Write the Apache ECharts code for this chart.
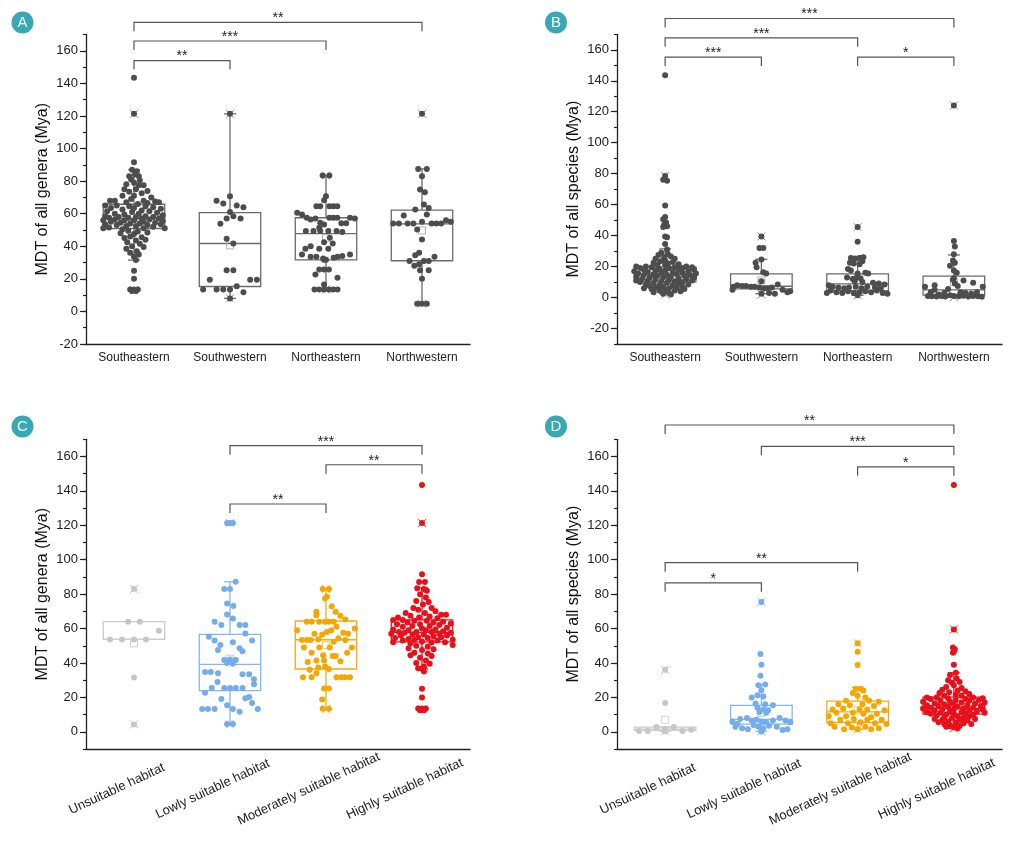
<!DOCTYPE html>
<html lang="en">
<head>
<meta charset="UTF-8">
<title>MDT box plots</title>
<style>
html, body { margin: 0; padding: 0; background: #fff; }
#chart { width: 1014px; height: 845px; }
</style>
</head>
<body>
<div id="chart"></div>
<script src="https://cdn.jsdelivr.net/npm/echarts@6/dist/echarts.min.js"></script>
<script>
var FONT = '"Liberation Sans", Arial, sans-serif';

var regions = ['Southeastern', 'Southwestern', 'Northeastern', 'Northwestern'];
var habitats = ['Unsuitable habitat', 'Lowly suitable habitat', 'Moderately suitable habitat', 'Highly suitable habitat'];
var majorTicks = [-20, 0, 20, 40, 60, 80, 100, 120, 140, 160];

// box stats: [lower whisker, Q1, median, Q3, upper whisker]
var A_box = [[31.5, 50.9, 57, 65.8, 86.9], [8, 15.3, 41.7, 60.7, 121.3], [13.5, 31.7, 47.7, 57.5, 83.4], [4.7, 31.1, 53.8, 62.2, 87.5]];
var A_mean = [57.5, 40.5, 45, 49.7];
var A_ext = [[13, 121.3], [8, 121.3], [13.5, 83.4], [4.7, 121.3]];
var B_box = [[2.5, 10.1, 14.8, 19.8, 31.4], [2.5, 5.6, 7.3, 15.3, 24.7], [1.5, 4.5, 8.8, 15.3, 26.6], [0.3, 1.5, 5, 13.8, 27.5]];
var B_mean = [16.5, 11, 10.5, 10];
var B_ext = [[2, 78.5], [2, 39.5], [1.5, 45.5], [0.3, 124]];
var C_box = [[53.7, 53.7, 53.7, 64, 64], [4.3, 23.9, 39.2, 56.6, 87.2], [13.2, 36.5, 53.5, 64.4, 83], [36.6, 52.3, 57.8, 65, 83.7]];
var C_mean = [51.4, 42.5, 50.4, 57.5];
var C_ext = [[4.3, 83], [4.3, 121.3], [13.2, 83], [13, 121.3]];
var D_box = [[0.3, 0.8, 1.5, 2.7, 2.8], [0.2, 4.5, 7.2, 15.3, 27.5], [1.5, 5.4, 11.6, 17.8, 25.8], [2, 10.3, 13.6, 20.2, 34.3]];
var D_mean = [7, 11, 12.5, 16.5];
var D_ext = [[0.3, 36], [0.2, 75.5], [1.5, 51.5], [2, 59.5]];

// points: [jitter offset within category, MDT]
var A_SE = [[0,143.5],[0,121.3],[0,91.5],[-0.02,87],[0.03,86],[0.01,84],[-0.05,83],[0.05,83],[-0.03,81],[0.06,80.5],[0,79],[-0.08,78],[0.05,77.5],[0.1,77.5],
  [-0.1,75],[0.02,75],[0.14,74],[-0.05,73.5],[0.08,72.5],[-0.12,71],[0,71],[0.18,70],[-0.03,69],[-0.2,68],[-0.25,68],[0.1,68],[0.22,67.5],[0.26,67],[-0.08,67],[0.14,66.5],[0.04,66],
  [-0.3,65],[-0.18,65],[-0.05,64.5],[0.12,64.5],[0.2,64],[-0.24,63.5],[0,63.5],[0.28,63],[-0.12,62.5],[0.08,62],[-0.28,61.5],[0.16,61.5],[-0.02,61],[0.24,60.5],[-0.2,60],[0.05,60],
  [-0.1,59.5],[0.3,59],[-0.3,58.5],[0.12,58.5],[-0.16,58],[0.02,58],[0.2,58],[-0.26,57.5],[-0.06,57.5],[0.08,57],[0.26,57],[-0.2,56.5],[0.16,56.5],[-0.32,56],[-0.1,56],[0,56],[0.3,55.5],
  [-0.24,55],[0.1,55],[-0.14,54.5],[0.22,54.5],[-0.04,54],[0.06,54],[-0.3,53.5],[0.28,53.5],[-0.18,53],[0.14,53],[-0.08,52.5],[0.02,52.5],[0.2,52],[-0.26,51.5],[0.32,51],[-0.32,51],[0.1,51],[-0.12,50.5],
  [-0.06,49.5],[0.04,49],[0.14,48.5],[-0.14,48],[0,47.5],[-0.04,46],[0.08,45.5],[-0.1,45],[0.12,44],[0.02,43.5],[-0.07,42.5],[0.06,41.5],[-0.02,40],[0.1,39.5],[-0.08,38.5],[0.03,37],
  [-0.04,36],[0.05,35],[0,33.5],[0.02,31.5],[0,25],[0,20],[-0.04,13.5],[0,13.5],[0.04,13.5],[-0.02,12.5],[0.02,12.5]];
var A_SW = [[0,121.3],[0,70.7],[-0.14,68],[-0.07,66.3],[0.07,65],[0.14,64],[0,61],[-0.035,57],[0.035,58.5],[0.11,57],[-0.1,53.8],[-0.035,44.6],[0.035,41.7],
  [-0.035,25.3],[0.035,25.3],[-0.21,19.4],[0.21,19.4],[0.28,19.4],[0.07,15.5],[-0.28,13.5],[-0.14,13.5],[-0.07,13.5],[0,13.5],[0.14,11.8],[0,8]];
var A_NE = [[-0.035,83.4],[0.035,83.4],[0,70.7],[-0.02,68.3],[-0.1,64.6],[-0.06,64.6],[0.035,64.6],[0.076,64.6],[0.118,64.6],[-0.3,60.5],[-0.25,59.5],[-0.2,57.5],[-0.16,56.5],[-0.11,57],
  [0.035,57.5],[0.076,57.5],[0.118,57.5],[0.25,57.5],[0.3,57],[-0.06,54.4],[-0.02,53.4],[0.16,54.2],[0.21,54.2],[-0.07,51.3],[-0.21,49.3],[-0.13,49.3],[-0.06,49.3],[0.024,49.3],[0.11,49.3],[0.17,48.8],
  [0.04,45.2],[-0.02,42.5],[-0.215,38.4],[-0.16,40],[-0.07,38.4],[0.024,38.4],[0.07,41.7],[-0.25,35],[-0.16,33.5],[-0.1,33.5],[-0.03,32.5],[0.08,33],[0.12,33.5],[0.17,34],[0.25,35],
  [-0.02,31.7],[0,31.7],[-0.07,25.8],[-0.02,25.8],[0.03,25.8],[-0.11,22.7],[0.12,20.7],[-0.02,16.6],[-0.12,13.5],[-0.07,13.5],[-0.02,13.5],[0.03,13.5],[0.076,13.5],[0.12,13.5]];
var A_NW = [[0,121.3],[-0.04,87.5],[0.05,87.5],[0,83],[-0.02,74.8],[0.03,73.2],[0.02,65.6],[-0.07,62.5],[0.07,63.5],[-0.19,58.9],[0.05,59.5],[-0.3,54],[-0.24,54],[-0.15,54],[-0.09,54],
  [0,55],[0.1,54],[0.15,54],[0.2,54],[0.25,56],[0.3,55],[-0.05,50.3],[0,44.2],[-0.03,36],[-0.07,34.5],[-0.13,31],[-0.08,28],[-0.03,29],[0.02,31],[0.07,31],[0.13,33.5],
  [-0.02,25.3],[0.07,25.3],[0,20],[-0.05,4.7],[0,4.7],[0.05,4.7]];

var B_SE = [[0,143.5],[0,78.5],[-0.02,76],[0.02,75.5],[0,59.5],[0,52],[-0.02,50.5],[0.01,48.5],[-0.01,47],[0.02,46],[-0.02,45.5],[0,39.5],[0.02,39],[0,34.5],[0.02,31],
  [-0.04,29],[0.03,28],[-0.07,27.5],[0.06,26.5],[-0.01,26],[-0.1,25],[0.1,25],[0,24],[-0.05,23.5],[0.08,23],[-0.12,22.5],[0.03,22],[0.14,21.5],[-0.08,21],[0,21],
  [-0.3,20],[-0.2,20],[0.22,20],[0.28,19.5],[-0.14,19.5],[0.1,19.5],[-0.26,19],[0.04,19],[0.18,19],[-0.06,18.5],[-0.22,18],[0.3,18],[0.14,18],[-0.1,17.5],[0,17.5],[-0.32,17],[0.24,17],
  [-0.18,16.5],[0.08,16.5],[-0.04,16],[0.18,16],[-0.28,15.5],[0.32,15.5],[-0.12,15],[0.12,15],[-0.22,14.5],[0.02,14.5],[0.26,14.5],[-0.08,14],[0.2,14],[-0.3,13.5],[0.06,13.5],[-0.16,13],
  [0.3,13],[-0.02,13],[0.14,12.5],[-0.24,12],[0.22,12],[-0.1,12],[0.04,11.5],[-0.3,11],[0.28,11],[-0.18,11],[0.1,10.5],[-0.04,10.5],[0.18,10],[-0.26,10],
  [-0.12,9.5],[0.02,9.5],[0.14,9],[-0.2,8.5],[0.24,8.5],[-0.06,8],[0.08,8],[-0.16,7.5],[0.18,7],[-0.02,7],[-0.1,6.5],[0.12,6.5],[-0.22,6],[0.04,6],[0.2,5.5],[-0.14,5.5],[0,5],
  [0.1,4.5],[-0.06,4.5],[0.16,4],[-0.12,3.5],[0.04,3],[-0.02,2.5],[0.06,2]];
var B_SW = [[0,39.5],[-0.02,32],[0.02,32],[0,24.5],[-0.06,22.4],[-0.05,19.5],[0.02,16.3],[0.05,15.5],[0,10.5],[-0.29,7],[-0.25,8],[-0.2,7.5],[-0.16,7.5],[-0.11,7],[-0.07,7],
  [-0.02,6.5],[0.03,6],[0.07,6],[0.11,6.5],[0.17,8.5],[0.22,5],[0.27,3.5],[0.3,4],[-0.3,5],[0.14,2.5],[0.08,3],[0,2.5]];
var B_NE = [[0,45.5],[0,36],[-0.07,25.5],[-0.03,25],[0.02,25.5],[0.06,26],[-0.08,22.5],[-0.04,22],[0.02,21.5],[0.05,23.5],[-0.1,18.5],[-0.07,17.5],[0,15.5],[0.08,16],[0.11,15.5],
  [-0.11,13],[-0.05,12],[-0.01,13],[0.03,12.5],[-0.03,10.5],[0.05,10],[0.16,9.5],[0.22,9],[-0.3,8],[-0.26,7],[0.28,8.5],[-0.2,6.5],[-0.14,6],[-0.09,6.5],[-0.02,7],[0.04,6],[0.1,7],
  [0.18,6.5],[0.24,6],[-0.28,4.5],[-0.22,3.5],[-0.16,3],[-0.1,4],[-0.04,3],[0.02,3.5],[0.08,4],[0.14,3.5],[0.2,4.5],[0.26,3],[0.31,2.5],[-0.32,3],[0,1.5]];
var B_NW = [[0,124],[0,36.5],[0.01,33],[0,28],[-0.01,24],[0.01,22.5],[-0.04,20.5],[0,17.5],[0.03,16],[0,12.5],[0.1,11],[-0.01,11.5],[0.01,9],[0.2,9.5],[-0.2,8],[0.04,7.5],[-0.3,7],
  [-0.2,5],[-0.06,5.5],[0.3,7],[-0.16,2],[0.12,3],[-0.27,1],[-0.23,0.8],[-0.18,0.6],[-0.13,1],[-0.09,0.7],[-0.04,1.5],[0,1],[0.05,0.8],[0.1,1.2],[0.15,0.6],[0.2,1],[0.25,0.8],
  [0.29,0.5],[-0.1,3],[0.07,3.5],[0.18,2.5],[-0.24,3.5],[0.24,3.5]];

var C_UN = [[0,83],[-0.06,64],[0.06,64],[0.26,58.7],[-0.25,53.7],[-0.125,53.7],[0,53.7],[0.125,53.7],[0,31.6],[0,4.3]];
var C_LO = [[-0.03,121.3],[0,121.3],[0.03,121.3],[0.06,87.2],[-0.06,83],[0,83],[-0.03,74.6],[0.035,73.1],[-0.03,68.2],[0.03,65.9],[-0.16,64],[-0.09,62],[0.1,62],[0.16,62],
  [-0.22,55.3],[0.16,57.2],[-0.16,53],[-0.1,50.5],[0.03,52],[0.23,53],[-0.125,47.5],[0.1,48.5],[0.13,46.8],[-0.06,41.7],[0,42],[0.06,41.7],[-0.03,40],[0.03,39.5],
  [-0.26,34.7],[-0.2,34.7],[-0.125,34],[0.13,33.5],[0.2,33.5],[0.25,30.5],[-0.13,29],[0.25,27.6],[-0.19,25.4],[-0.06,25.4],[0,25.4],[0.06,25.4],[0.13,25.4],[-0.26,22.7],
  [-0.09,19],[0.16,19.5],[0.2,20.2],[-0.03,15.5],[0.23,16.7],[-0.29,13.2],[-0.23,13.2],[-0.16,13.2],[0.03,13.2],[0.1,11.6],[0.29,13.2],[-0.03,4.5],[0.03,4.5]];
var C_MO = [[-0.035,83],[0.03,83],[-0.01,77.5],[0.01,78.5],[-0.1,69.8],[-0.1,67.8],[0.06,73],[0.1,69.8],[0.15,67.4],[0.2,65.3],[-0.2,64],[-0.15,64],[-0.07,64],[-0.01,64],[0.03,64],[0.08,64],
  [-0.3,59],[-0.12,57],[-0.04,56.5],[0.01,58],[0.055,59],[0.11,61],[0.18,57.5],[0.23,57],[0.3,60],[-0.25,53.3],[-0.2,53.3],[-0.16,53.3],[-0.08,53.8],[0.08,52.3],[0.13,54.3],[0.2,53.3],
  [-0.23,49],[-0.15,46],[-0.07,49],[-0.03,44.5],[0.04,49],[0.1,44],[0.07,44],[0.22,46],[0.27,49],[-0.19,40.5],[-0.1,41.5],[-0.02,41.5],[0.15,41],[-0.17,36],[-0.08,37.3],[-0.01,38],[0.03,36.5],
  [-0.24,31.7],[-0.15,31.7],[-0.1,34],[0.11,31.7],[0.16,31.7],[0.2,31.7],[0.25,31.7],[-0.02,25.2],[0.03,25.2],[-0.04,18.8],[-0.035,13.4],[0.03,13.4]];
var C_HI = [[0,143.5],[0,121.3],[0,91.5],[-0.03,87],[0.03,87],[-0.05,83.5],[0.02,83],[0.05,82],[-0.02,80],[0.04,78],[-0.06,76],[0.07,75.5],[0.01,74],[-0.09,72],[0.1,72],[-0.04,71],
  [0.14,70],[-0.17,69],[0.03,69],[0.2,68],[0.25,68],[-0.12,67.5],[0.08,67],[-0.25,66.5],[-0.03,66.5],[0.16,66],
  [-0.3,65],[-0.2,65],[-0.08,64.5],[0.05,64.5],[0.22,64],[-0.15,63.5],[0.12,63.5],[0.3,63],[-0.26,62.5],[-0.02,62.5],[0.18,62],[-0.1,61.5],[0.08,61.5],[-0.2,61],[0.26,60.5],[0,60],
  [-0.3,59.5],[0.14,59.5],[-0.14,59],[0.04,59],[0.22,58.5],[-0.24,58],[-0.06,58],[0.1,58],[0.3,57.5],[-0.18,57.5],[0.18,57],[-0.32,57],[-0.1,56.5],[0.02,56.5],[0.26,56],[-0.22,56],
  [0.12,55.5],[-0.04,55],[0.2,55],[-0.28,54.5],[0.06,54.5],[-0.14,54],[0.32,53.5],[-0.08,53.5],[0.16,53],[-0.2,53],[0,52.5],[0.24,52],[-0.3,52],[0.1,52],[-0.12,51.5],[0.32,50.5],
  [-0.06,50],[0.06,49.5],[-0.14,48.5],[0.12,48],[0,47.5],[-0.08,46],[0.06,45.5],[-0.12,44.5],[0.1,44],[-0.02,43],[0.04,41.5],[-0.06,40],[0.08,39.5],[0.02,38],[-0.04,37],[0,36.6],[0.02,35],
  [0,25],[0,20],[-0.04,13.5],[0,13.5],[0.04,13.5],[-0.02,12.5],[0.02,12.5]];

var D_UN = [[0,36],[0,16.7],[-0.27,0.5],[-0.18,0.5],[-0.09,2.8],[0,1.5],[0.09,2.8],[0.18,0.5],[0.27,1.2],[0,0.3]];
var D_LO = [[0,75.5],[-0.01,45.2],[0,39],[-0.01,32.6],[0.04,27.5],[-0.03,27],[0,24.2],[-0.04,21.3],[0.02,20.5],[-0.1,20],[-0.06,16.5],[0.04,16],[0.12,15.5],[-0.04,14],[0.02,13],
  [0.07,12.5],[-0.02,11.5],[0.05,11],[-0.22,7.5],[-0.15,8],[-0.1,6.5],[-0.05,7],[0,6],[0.05,5.5],[0.12,6.5],[0.19,8],[0.25,6.5],[0.3,5.5],[-0.3,6],[-0.27,3],[-0.2,2],[-0.14,1.5],
  [-0.08,4],[-0.03,3],[0.02,2],[0.08,3.5],[0.16,3],[0.22,1],[0.27,1.5],[-0.25,4.5],[0,0.2]];
var D_MO = [[0,51.5],[0,46.5],[0,38.8],[-0.02,25],[0.03,25],[0.06,24],[-0.05,22.5],[0,21],[0.08,20],[-0.12,18],[0.12,18],[0.22,17.5],[-0.2,16],[-0.08,15.5],[0.05,16],[0.17,15],
  [-0.26,13],[-0.15,13.5],[0.02,13],[0.1,13],[0.28,12.5],[-0.22,11],[-0.05,11],[0.06,10.5],[0.2,10.5],[-0.3,9],[-0.12,9],[0.14,8.5],[-0.18,7],[-0.04,7.5],[0.1,7],[0.25,7],
  [-0.28,5],[-0.1,5],[0.03,5.5],[0.18,5],[0.3,4.5],[-0.24,3],[-0.06,2.5],[0.08,3],[0.22,2],[-0.14,1.5],[0.14,1.5],[0,1.5]];
var D_HI = [[0,143.5],[0,59.5],[-0.01,49],[0.01,48],[0,46.5],[-0.01,46],[0,39],[0.02,34.3],[-0.04,33],[0.03,31],[-0.06,30],[0.06,29],[-0.02,28.5],[0,27],[-0.08,26],[0.08,25.5],
  [-0.12,24.5],[0.04,24],[0.12,23.5],[-0.05,23],[-0.15,22.5],[0.16,22],[0.02,21.5],[-0.1,21],[0.08,21],
  [-0.28,20],[-0.18,20],[0.2,20],[0.3,19.5],[-0.06,19.5],[0.12,19],[-0.24,19],[0.02,18.5],[0.26,18.5],[-0.14,18],[0.16,18],[-0.32,17.5],[-0.04,17.5],[0.08,17],[0.32,17],[-0.2,16.5],
  [0.22,16.5],[-0.1,16],[0,16],[-0.28,15.5],[0.14,15.5],[0.28,15],[-0.16,15],[0.04,14.5],[-0.06,14.5],[0.2,14],[-0.24,14],[0.1,13.5],[-0.32,13.5],[-0.12,13],[0.3,13],[0,13],
  [-0.2,12.5],[0.16,12.5],[-0.04,12],[0.24,12],[-0.28,11.5],[0.08,11.5],[0.32,11],[-0.14,11],[-0.24,10.5],[0.12,10.5],[0,10.5],[0.2,10],[-0.08,10],
  [-0.18,9.5],[0.04,9],[0.16,9],[-0.1,8.5],[-0.02,8],[0.1,8],[-0.2,7.5],[0.22,7.5],[-0.12,7],[0.06,7],[0.14,6.5],[-0.06,6],[-0.16,5.5],[0.02,5.5],[0.1,5],[-0.1,4.5],[0.18,4.5],
  [-0.04,4],[0.06,3.5],[-0.08,3],[0,2.5],[0.04,2]];

// significance brackets: [from, to, bracket level (Mya), stars]
var A_sig = [[0, 1, 154, '**'], [0, 2, 166, '***'], [0, 3, 177.5, '**']];
var B_sig = [[0, 1, 155.3, '***'], [0, 2, 167.7, '***'], [2, 3, 155.3, '*'], [0, 3, 180.2, '***']];
var C_sig = [[1, 2, 132.4, '**'], [2, 3, 155.2, '**'], [1, 3, 166.3, '***']];
var D_sig = [[0, 1, 86.6, '*'], [0, 2, 98.3, '**'], [2, 3, 154, '*'], [1, 3, 165.9, '***'], [0, 3, 178.3, '**']];

var grayPal = {
    box: ['#6b6b6b', '#6b6b6b', '#6b6b6b', '#6b6b6b'],
    dot: ['#4d4d4d', '#4d4d4d', '#4d4d4d', '#4d4d4d'],
    mean: ['#b3b3b3', '#b3b3b3', '#b3b3b3', '#b3b3b3'],
    ext: ['#8c8c8c', '#8c8c8c', '#8c8c8c', '#8c8c8c']
};
var habPal = {
    box: ['#cbcbcb', '#84b6ee', '#f5a915', '#e8131b'],
    dot: ['#c6c6c6', '#74acec', '#f4a700', '#e8101a'],
    mean: ['#d0d0d0', '#a9cbf4', '#f8c661', '#ef6a6f'],
    ext: ['#bdbdbd', '#8dbbf0', '#f2b233', '#da3037']
};

var panels = [
    {rect: {left: 86, top: 34.5, width: 384, height: 309.5}, cats: regions, min: -20, max: 170, name: 'MDT of all genera (Mya)',
        box: A_box, mean: A_mean, ext: A_ext, dots: [A_SE, A_SW, A_NE, A_NW], sig: A_sig, pal: grayPal, rotate: false, badge: ['A', 22.5, 22.5]},
    {rect: {left: 617, top: 34.3, width: 385, height: 309.7}, cats: regions, min: -30, max: 170, name: 'MDT of all species (Mya)',
        box: B_box, mean: B_mean, ext: B_ext, dots: [B_SE, B_SW, B_NE, B_NW], sig: B_sig, pal: grayPal, rotate: false, badge: ['B', 556, 22.5]},
    {rect: {left: 86, top: 439.3, width: 384, height: 309.7}, cats: habitats, min: -10, max: 170, name: 'MDT of all genera (Mya)',
        box: C_box, mean: C_mean, ext: C_ext, dots: [C_UN, C_LO, C_MO, C_HI], sig: C_sig, pal: habPal, rotate: true, badge: ['C', 22.5, 426.5]},
    {rect: {left: 617, top: 439.3, width: 385, height: 309.7}, cats: habitats, min: -10, max: 170, name: 'MDT of all species (Mya)',
        box: D_box, mean: D_mean, ext: D_ext, dots: [D_UN, D_LO, D_MO, D_HI], sig: D_sig, pal: habPal, rotate: true, badge: ['D', 556, 426.5]}
];

function boxRenderer(pal) {
    return function (params, api) {
        var i = api.value(0);
        var cx = api.coord([i, 0])[0];
        var hw = api.size([1, 0])[0] * 0.32;
        var Y = function (v) { return api.coord([i, v])[1]; };
        var wl = api.value(1), q1 = api.value(2), md = api.value(3), q3 = api.value(4), wh = api.value(5);
        var mn = api.value(6), el = api.value(7), eh = api.value(8);
        var c = pal.box[i];
        var kids = [];
        function ln(x1, y1, x2, y2, col, w) {
            kids.push({type: 'line', shape: {x1: x1, y1: y1, x2: x2, y2: y2}, style: {stroke: col, lineWidth: w || 1.3}});
        }
        ln(cx, Y(q3), cx, Y(wh), c);
        ln(cx, Y(q1), cx, Y(wl), c);
        if (wh > q3) ln(cx - 6, Y(wh), cx + 6, Y(wh), c);
        if (wl < q1) ln(cx - 6, Y(wl), cx + 6, Y(wl), c);
        kids.push({type: 'rect', shape: {x: cx - hw, y: Y(q3), width: 2 * hw, height: Y(q1) - Y(q3)},
            style: {fill: 'none', stroke: c, lineWidth: 1.3}});
        ln(cx - hw, Y(md), cx + hw, Y(md), c);
        kids.push({type: 'rect', shape: {x: cx - 3.5, y: Y(mn) - 3.5, width: 7, height: 7},
            style: {fill: 'none', stroke: pal.mean[i], lineWidth: 1}});
        [el, eh].forEach(function (v) {
            var y = Y(v);
            ln(cx - 4, y - 4, cx + 4, y + 4, pal.ext[i], 1);
            ln(cx - 4, y + 4, cx + 4, y - 4, pal.ext[i], 1);
        });
        return {type: 'group', children: kids};
    };
}

function sigRenderer(sig) {
    return function (params, api) {
        var s = sig[params.dataIndex];
        var x1 = api.coord([api.value(0), 0])[0];
        var x2 = api.coord([api.value(1), 0])[0];
        var y = api.coord([api.value(0), api.value(2)])[1];
        return {type: 'group', children: [
            {type: 'polyline', shape: {points: [[x1, y + 9], [x1, y], [x2, y], [x2, y + 9]]},
                style: {fill: 'none', stroke: '#555', lineWidth: 1.2}},
            {type: 'text', x: (x1 + x2) / 2, y: y - 4,
                style: {text: s[3], align: 'center', verticalAlign: 'middle', fontSize: 14, fill: '#222', fontFamily: FONT}}
        ]};
    };
}

var option = {animation: false, grid: [], xAxis: [], yAxis: [], series: [], graphic: []};

panels.forEach(function (p, k) {
    option.grid.push(p.rect);
    option.xAxis.push({
        type: 'category', gridIndex: k, position: 'bottom', data: p.cats, boundaryGap: true,
        axisLine: {onZero: false, lineStyle: {color: '#222', width: 1.3}},
        axisTick: {alignWithLabel: true, length: 6, lineStyle: {color: '#222', width: 1.3}},
        axisLabel: p.rotate
            ? {interval: 0, rotate: 25, fontSize: 13, color: '#222', fontFamily: FONT, align: 'center', verticalAlign: 'middle', margin: 32, padding: [0, 38, 0, 0]}
            : {interval: 0, fontSize: 12, color: '#222', fontFamily: FONT, margin: 8},
        splitLine: {show: false}
    });
    option.xAxis.push({type: 'value', gridIndex: k, position: 'bottom', min: -0.5, max: 3.5, show: false,
        axisLine: {onZero: false}});
    option.yAxis.push({
        type: 'value', gridIndex: k, position: 'left', min: p.min, max: p.max, interval: 10,
        name: p.name, nameLocation: 'middle', nameGap: 35,
        nameTextStyle: {fontSize: 16, color: '#111', fontFamily: FONT},
        axisLine: {show: true, onZero: false, lineStyle: {color: '#222', width: 1.3}},
        axisTick: {show: true, length: 3, lineStyle: {color: '#222', width: 1.2}},
        axisLabel: {fontSize: 13, color: '#222', fontFamily: FONT, margin: 8,
            formatter: function (v) { return Math.round(v) % 20 === 0 ? String(Math.round(v)) : ''; }},
        splitLine: {show: false}
    });
    option.yAxis.push({
        type: 'value', gridIndex: k, position: 'left', min: p.min, max: p.max, interval: 10,
        axisLine: {show: false, onZero: false},
        axisTick: {show: true, length: 6, customValues: majorTicks, lineStyle: {color: '#222', width: 1.2}},
        axisLabel: {show: false},
        splitLine: {show: false}
    });
    option.series.push({
        type: 'custom', xAxisIndex: 2 * k, yAxisIndex: 2 * k, clip: false, z: 2, silent: true,
        data: p.box.map(function (b, i) { return [i].concat(b, [p.mean[i]], p.ext[i]); }),
        encode: {x: 0, y: [1, 2, 3, 4, 5]},
        renderItem: boxRenderer(p.pal)
    });
    p.dots.forEach(function (d, i) {
        option.series.push({
            type: 'scatter', xAxisIndex: 2 * k + 1, yAxisIndex: 2 * k, z: 3, silent: true,
            symbolSize: 6, itemStyle: {color: p.pal.dot[i], opacity: 1},
            data: d.map(function (q) { return [i + q[0], q[1]]; })
        });
    });
    option.series.push({
        type: 'custom', xAxisIndex: 2 * k, yAxisIndex: 2 * k, clip: false, z: 4, silent: true,
        data: p.sig.map(function (s) { return [s[0], s[1], s[2]]; }),
        encode: {x: [0, 1], y: 2},
        renderItem: sigRenderer(p.sig)
    });
    option.graphic.push({type: 'circle', shape: {cx: p.badge[1], cy: p.badge[2], r: 11}, style: {fill: '#36a9b5'}});
    option.graphic.push({type: 'text', x: p.badge[1], y: p.badge[2] + 0.5,
        style: {text: p.badge[0], fill: '#fff', fontSize: 15, fontFamily: FONT, align: 'center', verticalAlign: 'middle'}});
});

var chart = echarts.init(document.getElementById('chart'), null, {renderer: 'canvas'});
chart.setOption(option);
</script>
</body>
</html>
